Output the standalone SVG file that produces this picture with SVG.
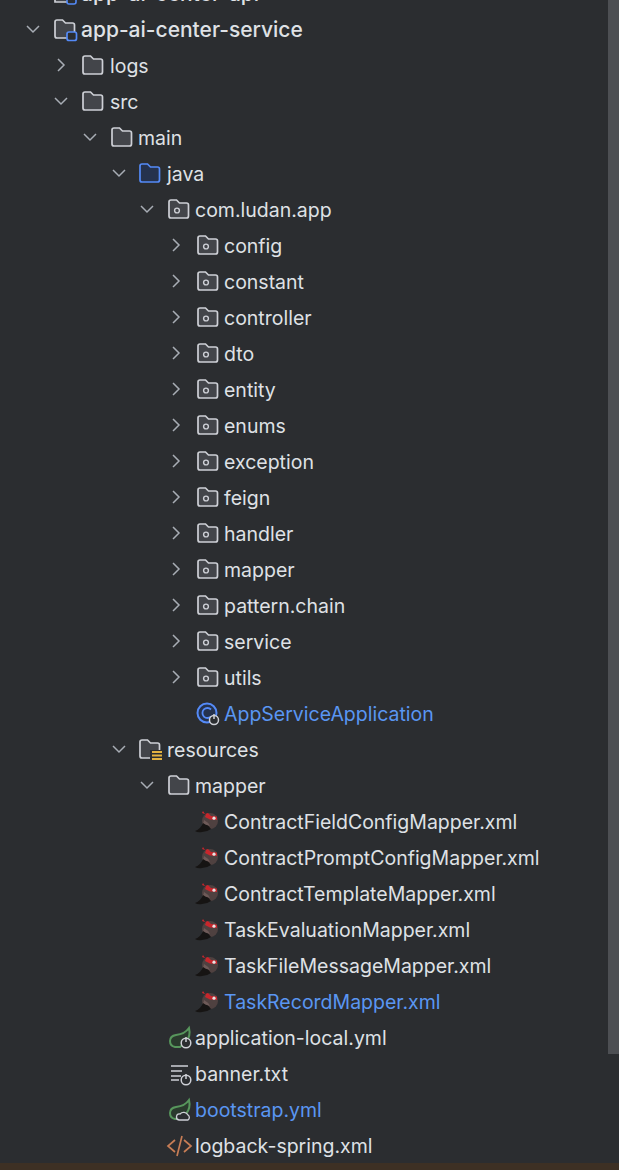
<svg xmlns="http://www.w3.org/2000/svg" width="619" height="1170" viewBox="0 0 619 1170">
<style>
text{font-family:Inter,"Noto Sans",sans-serif;font-size:19.500px;fill:#dfe1e5}
.t{font-size:21px;font-weight:500}
.b{fill:#5a96f2}
.ch{fill:none;stroke:#a8adb5;stroke-width:1.5}
.f{fill:#43454a;stroke:#ced0d6;stroke-width:1.7}
.fb{fill:#25324d;stroke:#548af7;stroke-width:1.7}
.l{fill:none;stroke:#ced0d6;stroke-width:1.6}
.sp{fill:#2a3a2d;stroke:#57965c;stroke-width:2}
</style>
<defs>
<path id="d" class="ch" d="M-6-3L0 3L6-3"/>
<path id="r" class="ch" d="M-3-6L3 0L-3 6"/>
<path id="folder" d="M1-8a2 2 0 0 1 2-2h5.500l3 3h7a2 2 0 0 1 2 2v11a2 2 0 0 1-2 2H3a2 2 0 0 1-2-2z"/>
<g id="pk"><use href="#folder" class="f"/><circle cx="9" cy="0.500" r="2.400" fill="none" stroke="#ced0d6" stroke-width="1.400"/></g>
<g id="x">
<circle cx="13" cy="-1" r="8" fill="#4f4140"/>
<path d="M-2 9Q4 7 7-1Q11 3 14 7Q10 10 5 10Q1 11-2 9z" fill="#161413"/>
<path d="M7-2Q11 0 13 4Q8 3 6 1z" fill="#6e5a58"/>
<path d="M6-11L8-8L11-9L14-6L20-5.500L20-2L13-2.500L8-5L9-7.500L5-9z" fill="#c8262c"/>
<circle cx="17" cy="-3.800" r="1.600" fill="#e4e4e4"/>
</g>
</defs>
<rect width="619" height="1170" fill="#2b2d30"/>
<rect x="608" y="0" width="11" height="1054" fill="#4d4f53"/>
<rect y="1163" width="619" height="7" fill="#3d3024"/>

<g id="app-ai-center-api"><path class="f" d="M55-12h5l3 3h7a2 2 0 0 1 2 2v9H55z"/><rect x="67" y="-3" width="9" height="7" rx="2" fill="#2b2d30" stroke="#548af7" stroke-width="1.600"/><text class="t" x="81" y="1">app-ai-center-api</text></g>
<g id="app-ai-center-service"><use href="#d" x="33" y="29"/><use href="#folder" class="f" x="54" y="30"/><rect x="67" y="32" width="9.500" height="8.500" rx="2" fill="#2b2d30" stroke="#548af7" stroke-width="1.700"/><text class="t" x="81" y="37">app-ai-center-service</text></g>
<g id="logs"><use href="#r" x="61" y="65"/><use href="#folder" class="f" x="82" y="66"/><text x="110" y="73">logs</text></g>
<g id="src"><use href="#d" x="61" y="101"/><use href="#folder" class="f" x="82" y="102"/><text x="110" y="109">src</text></g>
<g id="main"><use href="#d" x="90" y="137"/><use href="#folder" class="f" x="111" y="138"/><text x="138" y="145">main</text></g>
<g id="java"><use href="#d" x="119" y="173"/><use href="#folder" class="fb" x="139" y="174"/><text x="167" y="181">java</text></g>
<g id="com.ludan.app"><use href="#d" x="147" y="209"/><use href="#pk" x="168" y="210"/><text x="195" y="217">com.ludan.app</text></g>
<g id="config"><use href="#r" x="176" y="245"/><use href="#pk" x="197" y="246"/><text x="224" y="253">config</text></g>
<g id="constant"><use href="#r" x="176" y="281"/><use href="#pk" x="197" y="282"/><text x="224" y="289">constant</text></g>
<g id="controller"><use href="#r" x="176" y="317"/><use href="#pk" x="197" y="318"/><text x="224" y="325">controller</text></g>
<g id="dto"><use href="#r" x="176" y="353"/><use href="#pk" x="197" y="354"/><text x="224" y="361">dto</text></g>
<g id="entity"><use href="#r" x="176" y="389"/><use href="#pk" x="197" y="390"/><text x="224" y="397">entity</text></g>
<g id="enums"><use href="#r" x="176" y="425"/><use href="#pk" x="197" y="426"/><text x="224" y="433">enums</text></g>
<g id="exception"><use href="#r" x="176" y="461"/><use href="#pk" x="197" y="462"/><text x="224" y="469">exception</text></g>
<g id="feign"><use href="#r" x="176" y="497"/><use href="#pk" x="197" y="498"/><text x="224" y="505">feign</text></g>
<g id="handler"><use href="#r" x="176" y="533"/><use href="#pk" x="197" y="534"/><text x="224" y="541">handler</text></g>
<g id="mapper"><use href="#r" x="176" y="569"/><use href="#pk" x="197" y="570"/><text x="224" y="577">mapper</text></g>
<g id="pattern.chain"><use href="#r" x="176" y="605"/><use href="#pk" x="197" y="606"/><text x="224" y="613">pattern.chain</text></g>
<g id="service"><use href="#r" x="176" y="641"/><use href="#pk" x="197" y="642"/><text x="224" y="649">service</text></g>
<g id="utils"><use href="#r" x="176" y="677"/><use href="#pk" x="197" y="678"/><text x="224" y="685">utils</text></g>
<g id="AppServiceApplication"><circle cx="207" cy="713" r="9.500" fill="#25324d" stroke="#548af7" stroke-width="2"/><path d="M211 709.500a5 5 0 1 0 0 7" fill="none" stroke="#548af7" stroke-width="1.800"/><circle cx="214" cy="720" r="4.500" fill="#2b2d30" stroke="#ced0d6" stroke-width="1.500"/><path d="M214 714v5" stroke="#ced0d6" stroke-width="1.500"/><text class="b" x="224" y="721">AppServiceApplication</text></g>
<g id="resources"><use href="#d" x="119" y="749"/><use href="#folder" class="f" x="139" y="750"/><rect x="150" y="750" width="12" height="11" fill="#2b2d30"/><path d="M152 752h10M152 755.500h10M152 759h10" stroke="#e3b341" stroke-width="1.800"/><text x="167" y="757">resources</text></g>
<g id="resources-mapper"><use href="#d" x="147" y="785"/><use href="#folder" class="f" x="168" y="786"/><text x="195" y="793">mapper</text></g>
<g id="ContractFieldConfigMapper"><use href="#x" x="197" y="822"/><text x="224" y="829">ContractFieldConfigMapper.xml</text></g>
<g id="ContractPromptConfigMapper"><use href="#x" x="197" y="858"/><text x="224" y="865">ContractPromptConfigMapper.xml</text></g>
<g id="ContractTemplateMapper"><use href="#x" x="197" y="894"/><text x="224" y="901">ContractTemplateMapper.xml</text></g>
<g id="TaskEvaluationMapper"><use href="#x" x="197" y="930"/><text x="224" y="937">TaskEvaluationMapper.xml</text></g>
<g id="TaskFileMessageMapper"><use href="#x" x="197" y="966"/><text x="224" y="973">TaskFileMessageMapper.xml</text></g>
<g id="TaskRecordMapper"><use href="#x" x="197" y="1002"/><text class="b" x="224" y="1009">TaskRecordMapper.xml</text></g>
<g id="application-local"><path class="sp" d="M170 1041Q170 1036 176 1035Q185 1034 189 1028Q191 1036 186 1042L180 1047H175Q170 1046 170 1041z"/><circle cx="186" cy="1043" r="4.800" fill="#2b2d30" stroke="#ced0d6" stroke-width="1.500"/><path d="M186 1037v5" stroke="#ced0d6" stroke-width="1.500"/><text x="195" y="1045">application-local.yml</text></g>
<g id="banner"><path d="M171 1066h17M171 1071h11M171 1076h10M171 1080h8" class="l"/><circle cx="186" cy="1080" r="4.800" fill="#2b2d30" stroke="#ced0d6" stroke-width="1.500"/><path d="M186 1074v5" stroke="#ced0d6" stroke-width="1.500"/><text x="195" y="1081">banner.txt</text></g>
<g id="bootstrap"><path class="sp" d="M170 1113Q170 1108 176 1107Q185 1106 189 1100Q191 1108 186 1114L180 1119H175Q170 1118 170 1113z"/><path d="M179 1120a3 3 0 0 1 1-6a5 5 0 0 1 8 1a3 3 0 0 1 0 5z" fill="#2b2d30" stroke="#ced0d6" stroke-width="1.300"/><text class="b" x="195" y="1117">bootstrap.yml</text></g>
<g id="logback-spring"><path d="M175 1140L168 1146L175 1152M184 1140L191 1146L184 1152" fill="none" stroke="#c77d55" stroke-width="1.700"/><path d="M182 1136L177 1156" fill="none" stroke="#c77d55" stroke-width="1.700"/><text x="195" y="1153">logback-spring.xml</text></g>
</svg>
